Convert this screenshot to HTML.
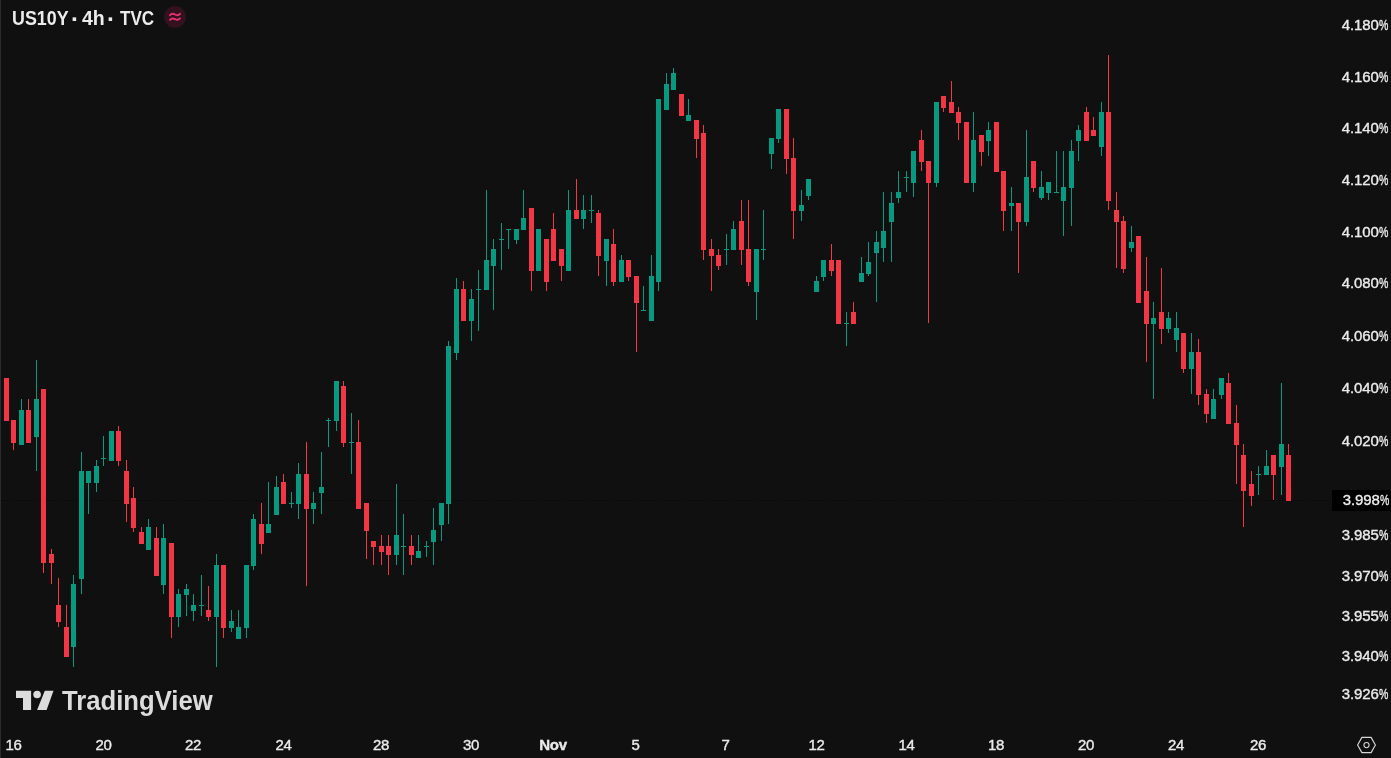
<!DOCTYPE html>
<html><head><meta charset="utf-8"><title>US10Y chart</title>
<style>
html,body{margin:0;padding:0;background:#101010;}
body{width:1391px;height:758px;position:relative;overflow:hidden;font-family:"Liberation Sans",sans-serif;color:#dbdbdb;}
#chart{position:absolute;left:0;top:0;}
.edge{position:absolute;left:0;top:0;width:1px;height:758px;background:#2a2d2e;}
.title{position:absolute;left:0;top:7.4px;height:22px;line-height:22px;font-size:19.5px;font-weight:700;color:#ececec;white-space:nowrap;}
.title span{position:absolute;top:0;transform-origin:0 50%;transform:scaleX(0.875);}
.badge{position:absolute;left:164px;top:6px;width:22px;height:22px;border-radius:50%;background:#33111f;}
.pl{position:absolute;right:3px;width:70px;height:20px;line-height:20px;text-align:right;font-size:15px;letter-spacing:-0.1px;color:#ebebeb;-webkit-text-stroke:0.38px #ebebeb;white-space:nowrap;}
.pc{display:inline-block;width:9.3px;transform-origin:0 50%;transform:scaleX(0.7);text-align:left;letter-spacing:0;}
.cur{position:absolute;left:1332px;top:490px;width:59px;height:21px;background:#000;}
.cur span.t{position:absolute;right:2px;top:-0.7px;height:21px;line-height:21px;font-size:15px;letter-spacing:-0.1px;color:#f0f0f0;-webkit-text-stroke:0.3px #f0f0f0;white-space:nowrap;}
.tl{position:absolute;top:734.7px;width:60px;height:20px;line-height:20px;text-align:center;font-size:15px;color:#ebebeb;-webkit-text-stroke:0.38px #ebebeb;letter-spacing:-0.3px;white-space:nowrap;}
.tl.b{font-weight:700;}
.logo{position:absolute;left:62px;top:686.6px;height:28px;line-height:28px;font-size:27px;font-weight:700;color:#dcdcdc;white-space:nowrap;transform-origin:0 50%;transform:scaleX(0.95);}
</style></head><body>
<svg id="chart" width="1391" height="758" viewBox="0 0 1391 758" shape-rendering="crispEdges">
<line x1="1" y1="500.5" x2="1330" y2="500.5" stroke="#000" stroke-opacity="0.75" stroke-width="1" stroke-dasharray="1 2"/>
<rect x="6" y="378" width="1" height="43" fill="#f23645"/>
<rect x="4" y="378" width="5" height="43" fill="#f23645"/>
<rect x="13" y="420" width="1" height="30" fill="#f23645"/>
<rect x="11" y="420" width="5" height="23" fill="#f23645"/>
<rect x="21" y="399" width="1" height="46" fill="#089981"/>
<rect x="19" y="410" width="5" height="35" fill="#089981"/>
<rect x="28" y="399" width="1" height="44" fill="#f23645"/>
<rect x="26" y="410" width="5" height="33" fill="#f23645"/>
<rect x="36" y="360" width="1" height="111" fill="#089981"/>
<rect x="34" y="399" width="5" height="38" fill="#089981"/>
<rect x="43" y="389" width="1" height="184" fill="#f23645"/>
<rect x="41" y="389" width="5" height="174" fill="#f23645"/>
<rect x="51" y="549" width="1" height="35" fill="#f23645"/>
<rect x="49" y="554" width="5" height="9" fill="#f23645"/>
<rect x="58" y="578" width="1" height="49" fill="#f23645"/>
<rect x="56" y="605" width="5" height="17" fill="#f23645"/>
<rect x="66" y="605" width="1" height="52" fill="#f23645"/>
<rect x="64" y="627" width="5" height="30" fill="#f23645"/>
<rect x="73" y="575" width="1" height="92" fill="#089981"/>
<rect x="71" y="584" width="5" height="63" fill="#089981"/>
<rect x="81" y="452" width="1" height="142" fill="#089981"/>
<rect x="79" y="471" width="5" height="108" fill="#089981"/>
<rect x="88" y="471" width="1" height="43" fill="#089981"/>
<rect x="86" y="471" width="5" height="12" fill="#089981"/>
<rect x="96" y="460" width="1" height="32" fill="#089981"/>
<rect x="94" y="466" width="5" height="17" fill="#089981"/>
<rect x="103" y="436" width="1" height="30" fill="#089981"/>
<rect x="101" y="458" width="5" height="1" fill="#089981"/>
<rect x="111" y="431" width="1" height="30" fill="#089981"/>
<rect x="109" y="431" width="5" height="30" fill="#089981"/>
<rect x="118" y="426" width="1" height="40" fill="#f23645"/>
<rect x="116" y="431" width="5" height="30" fill="#f23645"/>
<rect x="126" y="460" width="1" height="62" fill="#f23645"/>
<rect x="124" y="471" width="5" height="33" fill="#f23645"/>
<rect x="133" y="487" width="1" height="45" fill="#f23645"/>
<rect x="131" y="498" width="5" height="30" fill="#f23645"/>
<rect x="141" y="527" width="1" height="17" fill="#f23645"/>
<rect x="139" y="532" width="5" height="12" fill="#f23645"/>
<rect x="148" y="519" width="1" height="31" fill="#089981"/>
<rect x="146" y="527" width="5" height="23" fill="#089981"/>
<rect x="156" y="527" width="1" height="49" fill="#f23645"/>
<rect x="154" y="538" width="5" height="38" fill="#f23645"/>
<rect x="163" y="524" width="1" height="70" fill="#089981"/>
<rect x="161" y="538" width="5" height="47" fill="#089981"/>
<rect x="171" y="543" width="1" height="95" fill="#f23645"/>
<rect x="169" y="543" width="5" height="74" fill="#f23645"/>
<rect x="178" y="589" width="1" height="38" fill="#089981"/>
<rect x="176" y="594" width="5" height="23" fill="#089981"/>
<rect x="186" y="584" width="1" height="32" fill="#089981"/>
<rect x="184" y="589" width="5" height="6" fill="#089981"/>
<rect x="193" y="594" width="1" height="27" fill="#089981"/>
<rect x="191" y="605" width="5" height="6" fill="#089981"/>
<rect x="201" y="575" width="1" height="41" fill="#089981"/>
<rect x="199" y="605" width="5" height="1" fill="#089981"/>
<rect x="208" y="586" width="1" height="35" fill="#f23645"/>
<rect x="206" y="610" width="5" height="7" fill="#f23645"/>
<rect x="216" y="554" width="1" height="113" fill="#089981"/>
<rect x="214" y="565" width="5" height="52" fill="#089981"/>
<rect x="223" y="565" width="1" height="73" fill="#f23645"/>
<rect x="221" y="565" width="5" height="63" fill="#f23645"/>
<rect x="231" y="610" width="1" height="22" fill="#089981"/>
<rect x="229" y="621" width="5" height="7" fill="#089981"/>
<rect x="238" y="610" width="1" height="29" fill="#089981"/>
<rect x="236" y="627" width="5" height="12" fill="#089981"/>
<rect x="246" y="565" width="1" height="73" fill="#089981"/>
<rect x="244" y="565" width="5" height="63" fill="#089981"/>
<rect x="253" y="514" width="1" height="56" fill="#089981"/>
<rect x="251" y="519" width="5" height="47" fill="#089981"/>
<rect x="261" y="503" width="1" height="51" fill="#f23645"/>
<rect x="259" y="524" width="5" height="20" fill="#f23645"/>
<rect x="268" y="482" width="1" height="51" fill="#089981"/>
<rect x="266" y="524" width="5" height="9" fill="#089981"/>
<rect x="276" y="476" width="1" height="39" fill="#089981"/>
<rect x="274" y="487" width="5" height="28" fill="#089981"/>
<rect x="283" y="474" width="1" height="30" fill="#f23645"/>
<rect x="281" y="482" width="5" height="22" fill="#f23645"/>
<rect x="291" y="492" width="1" height="16" fill="#089981"/>
<rect x="289" y="503" width="5" height="1" fill="#089981"/>
<rect x="298" y="463" width="1" height="56" fill="#089981"/>
<rect x="296" y="474" width="5" height="30" fill="#089981"/>
<rect x="306" y="442" width="1" height="144" fill="#f23645"/>
<rect x="304" y="474" width="5" height="35" fill="#f23645"/>
<rect x="313" y="492" width="1" height="32" fill="#089981"/>
<rect x="311" y="503" width="5" height="6" fill="#089981"/>
<rect x="321" y="452" width="1" height="62" fill="#089981"/>
<rect x="319" y="487" width="5" height="6" fill="#089981"/>
<rect x="328" y="418" width="1" height="29" fill="#089981"/>
<rect x="326" y="420" width="5" height="1" fill="#089981"/>
<rect x="336" y="381" width="1" height="50" fill="#089981"/>
<rect x="334" y="381" width="5" height="40" fill="#089981"/>
<rect x="343" y="381" width="1" height="66" fill="#f23645"/>
<rect x="341" y="386" width="5" height="57" fill="#f23645"/>
<rect x="351" y="413" width="1" height="61" fill="#089981"/>
<rect x="349" y="442" width="5" height="1" fill="#089981"/>
<rect x="358" y="420" width="1" height="89" fill="#f23645"/>
<rect x="356" y="442" width="5" height="67" fill="#f23645"/>
<rect x="366" y="503" width="1" height="56" fill="#f23645"/>
<rect x="364" y="503" width="5" height="28" fill="#f23645"/>
<rect x="373" y="541" width="1" height="24" fill="#f23645"/>
<rect x="371" y="541" width="5" height="6" fill="#f23645"/>
<rect x="381" y="535" width="1" height="30" fill="#f23645"/>
<rect x="379" y="546" width="5" height="6" fill="#f23645"/>
<rect x="388" y="535" width="1" height="40" fill="#f23645"/>
<rect x="386" y="546" width="5" height="9" fill="#f23645"/>
<rect x="396" y="484" width="1" height="81" fill="#089981"/>
<rect x="394" y="535" width="5" height="20" fill="#089981"/>
<rect x="403" y="514" width="1" height="61" fill="#089981"/>
<rect x="401" y="546" width="5" height="1" fill="#089981"/>
<rect x="411" y="535" width="1" height="30" fill="#f23645"/>
<rect x="409" y="546" width="5" height="9" fill="#f23645"/>
<rect x="418" y="535" width="1" height="23" fill="#089981"/>
<rect x="416" y="551" width="5" height="7" fill="#089981"/>
<rect x="426" y="541" width="1" height="16" fill="#089981"/>
<rect x="424" y="546" width="5" height="1" fill="#089981"/>
<rect x="433" y="508" width="1" height="57" fill="#089981"/>
<rect x="431" y="530" width="5" height="12" fill="#089981"/>
<rect x="441" y="503" width="1" height="38" fill="#089981"/>
<rect x="439" y="503" width="5" height="22" fill="#089981"/>
<rect x="448" y="341" width="1" height="183" fill="#089981"/>
<rect x="446" y="346" width="5" height="158" fill="#089981"/>
<rect x="456" y="278" width="1" height="82" fill="#089981"/>
<rect x="454" y="289" width="5" height="64" fill="#089981"/>
<rect x="463" y="281" width="1" height="40" fill="#f23645"/>
<rect x="461" y="289" width="5" height="32" fill="#f23645"/>
<rect x="471" y="289" width="1" height="52" fill="#089981"/>
<rect x="469" y="299" width="5" height="22" fill="#089981"/>
<rect x="478" y="270" width="1" height="61" fill="#089981"/>
<rect x="476" y="289" width="5" height="1" fill="#089981"/>
<rect x="486" y="190" width="1" height="100" fill="#089981"/>
<rect x="484" y="260" width="5" height="30" fill="#089981"/>
<rect x="493" y="239" width="1" height="71" fill="#089981"/>
<rect x="491" y="249" width="5" height="17" fill="#089981"/>
<rect x="501" y="223" width="1" height="47" fill="#089981"/>
<rect x="499" y="239" width="5" height="1" fill="#089981"/>
<rect x="508" y="229" width="1" height="20" fill="#089981"/>
<rect x="506" y="229" width="5" height="1" fill="#089981"/>
<rect x="516" y="229" width="1" height="15" fill="#089981"/>
<rect x="514" y="229" width="5" height="11" fill="#089981"/>
<rect x="523" y="190" width="1" height="40" fill="#089981"/>
<rect x="521" y="218" width="5" height="12" fill="#089981"/>
<rect x="531" y="208" width="1" height="83" fill="#f23645"/>
<rect x="529" y="208" width="5" height="63" fill="#f23645"/>
<rect x="538" y="229" width="1" height="42" fill="#089981"/>
<rect x="536" y="229" width="5" height="42" fill="#089981"/>
<rect x="546" y="239" width="1" height="52" fill="#f23645"/>
<rect x="544" y="239" width="5" height="43" fill="#f23645"/>
<rect x="553" y="213" width="1" height="48" fill="#f23645"/>
<rect x="551" y="229" width="5" height="32" fill="#f23645"/>
<rect x="561" y="249" width="1" height="32" fill="#f23645"/>
<rect x="559" y="249" width="5" height="17" fill="#f23645"/>
<rect x="568" y="190" width="1" height="81" fill="#089981"/>
<rect x="566" y="210" width="5" height="61" fill="#089981"/>
<rect x="576" y="179" width="1" height="40" fill="#f23645"/>
<rect x="574" y="210" width="5" height="9" fill="#f23645"/>
<rect x="583" y="195" width="1" height="34" fill="#089981"/>
<rect x="581" y="210" width="5" height="9" fill="#089981"/>
<rect x="591" y="195" width="1" height="28" fill="#089981"/>
<rect x="589" y="210" width="5" height="1" fill="#089981"/>
<rect x="598" y="210" width="1" height="66" fill="#f23645"/>
<rect x="596" y="213" width="5" height="43" fill="#f23645"/>
<rect x="606" y="239" width="1" height="47" fill="#089981"/>
<rect x="604" y="239" width="5" height="22" fill="#089981"/>
<rect x="613" y="229" width="1" height="57" fill="#f23645"/>
<rect x="611" y="244" width="5" height="38" fill="#f23645"/>
<rect x="621" y="255" width="1" height="27" fill="#089981"/>
<rect x="619" y="260" width="5" height="22" fill="#089981"/>
<rect x="628" y="260" width="1" height="21" fill="#f23645"/>
<rect x="626" y="260" width="5" height="17" fill="#f23645"/>
<rect x="636" y="276" width="1" height="76" fill="#f23645"/>
<rect x="634" y="276" width="5" height="27" fill="#f23645"/>
<rect x="643" y="286" width="1" height="25" fill="#089981"/>
<rect x="641" y="310" width="5" height="1" fill="#089981"/>
<rect x="651" y="255" width="1" height="66" fill="#089981"/>
<rect x="649" y="276" width="5" height="45" fill="#089981"/>
<rect x="658" y="99" width="1" height="192" fill="#089981"/>
<rect x="656" y="99" width="5" height="183" fill="#089981"/>
<rect x="666" y="73" width="1" height="37" fill="#089981"/>
<rect x="664" y="84" width="5" height="26" fill="#089981"/>
<rect x="673" y="68" width="1" height="22" fill="#089981"/>
<rect x="671" y="73" width="5" height="17" fill="#089981"/>
<rect x="681" y="94" width="1" height="22" fill="#f23645"/>
<rect x="679" y="94" width="5" height="22" fill="#f23645"/>
<rect x="688" y="99" width="1" height="22" fill="#089981"/>
<rect x="686" y="115" width="5" height="6" fill="#089981"/>
<rect x="696" y="120" width="1" height="38" fill="#f23645"/>
<rect x="694" y="120" width="5" height="19" fill="#f23645"/>
<rect x="703" y="125" width="1" height="135" fill="#f23645"/>
<rect x="701" y="133" width="5" height="117" fill="#f23645"/>
<rect x="711" y="239" width="1" height="52" fill="#f23645"/>
<rect x="709" y="249" width="5" height="7" fill="#f23645"/>
<rect x="718" y="249" width="1" height="21" fill="#f23645"/>
<rect x="716" y="255" width="5" height="11" fill="#f23645"/>
<rect x="726" y="234" width="1" height="31" fill="#089981"/>
<rect x="724" y="249" width="5" height="1" fill="#089981"/>
<rect x="733" y="221" width="1" height="29" fill="#089981"/>
<rect x="731" y="229" width="5" height="21" fill="#089981"/>
<rect x="741" y="200" width="1" height="65" fill="#f23645"/>
<rect x="739" y="221" width="5" height="29" fill="#f23645"/>
<rect x="748" y="200" width="1" height="86" fill="#f23645"/>
<rect x="746" y="249" width="5" height="33" fill="#f23645"/>
<rect x="756" y="249" width="1" height="71" fill="#089981"/>
<rect x="754" y="249" width="5" height="43" fill="#089981"/>
<rect x="763" y="210" width="1" height="50" fill="#089981"/>
<rect x="761" y="249" width="5" height="1" fill="#089981"/>
<rect x="771" y="138" width="1" height="31" fill="#089981"/>
<rect x="769" y="138" width="5" height="16" fill="#089981"/>
<rect x="778" y="109" width="1" height="34" fill="#089981"/>
<rect x="776" y="109" width="5" height="30" fill="#089981"/>
<rect x="786" y="109" width="1" height="65" fill="#f23645"/>
<rect x="784" y="109" width="5" height="50" fill="#f23645"/>
<rect x="793" y="138" width="1" height="101" fill="#f23645"/>
<rect x="791" y="158" width="5" height="53" fill="#f23645"/>
<rect x="801" y="190" width="1" height="31" fill="#089981"/>
<rect x="799" y="205" width="5" height="6" fill="#089981"/>
<rect x="808" y="179" width="1" height="21" fill="#089981"/>
<rect x="806" y="179" width="5" height="17" fill="#089981"/>
<rect x="816" y="276" width="1" height="16" fill="#089981"/>
<rect x="814" y="281" width="5" height="11" fill="#089981"/>
<rect x="823" y="260" width="1" height="21" fill="#089981"/>
<rect x="821" y="260" width="5" height="17" fill="#089981"/>
<rect x="831" y="244" width="1" height="32" fill="#f23645"/>
<rect x="829" y="260" width="5" height="11" fill="#f23645"/>
<rect x="838" y="260" width="1" height="64" fill="#f23645"/>
<rect x="836" y="260" width="5" height="64" fill="#f23645"/>
<rect x="846" y="312" width="1" height="34" fill="#089981"/>
<rect x="844" y="323" width="5" height="1" fill="#089981"/>
<rect x="853" y="302" width="1" height="22" fill="#f23645"/>
<rect x="851" y="312" width="5" height="12" fill="#f23645"/>
<rect x="861" y="257" width="1" height="25" fill="#089981"/>
<rect x="859" y="273" width="5" height="9" fill="#089981"/>
<rect x="868" y="242" width="1" height="34" fill="#089981"/>
<rect x="866" y="262" width="5" height="12" fill="#089981"/>
<rect x="876" y="231" width="1" height="71" fill="#089981"/>
<rect x="874" y="242" width="5" height="11" fill="#089981"/>
<rect x="883" y="192" width="1" height="70" fill="#089981"/>
<rect x="881" y="231" width="5" height="17" fill="#089981"/>
<rect x="891" y="192" width="1" height="70" fill="#089981"/>
<rect x="889" y="203" width="5" height="19" fill="#089981"/>
<rect x="898" y="171" width="1" height="32" fill="#089981"/>
<rect x="896" y="192" width="5" height="6" fill="#089981"/>
<rect x="906" y="171" width="1" height="21" fill="#089981"/>
<rect x="904" y="177" width="5" height="1" fill="#089981"/>
<rect x="913" y="151" width="1" height="46" fill="#089981"/>
<rect x="911" y="151" width="5" height="32" fill="#089981"/>
<rect x="921" y="130" width="1" height="41" fill="#f23645"/>
<rect x="919" y="140" width="5" height="22" fill="#f23645"/>
<rect x="928" y="161" width="1" height="162" fill="#f23645"/>
<rect x="926" y="161" width="5" height="22" fill="#f23645"/>
<rect x="936" y="102" width="1" height="85" fill="#089981"/>
<rect x="934" y="102" width="5" height="81" fill="#089981"/>
<rect x="943" y="96" width="1" height="16" fill="#f23645"/>
<rect x="941" y="96" width="5" height="12" fill="#f23645"/>
<rect x="951" y="81" width="1" height="32" fill="#f23645"/>
<rect x="949" y="102" width="5" height="11" fill="#f23645"/>
<rect x="958" y="107" width="1" height="33" fill="#f23645"/>
<rect x="956" y="112" width="5" height="11" fill="#f23645"/>
<rect x="966" y="122" width="1" height="61" fill="#f23645"/>
<rect x="964" y="122" width="5" height="61" fill="#f23645"/>
<rect x="973" y="112" width="1" height="80" fill="#089981"/>
<rect x="971" y="140" width="5" height="43" fill="#089981"/>
<rect x="981" y="135" width="1" height="31" fill="#f23645"/>
<rect x="979" y="135" width="5" height="17" fill="#f23645"/>
<rect x="988" y="122" width="1" height="34" fill="#089981"/>
<rect x="986" y="130" width="5" height="11" fill="#089981"/>
<rect x="996" y="122" width="1" height="50" fill="#f23645"/>
<rect x="994" y="122" width="5" height="50" fill="#f23645"/>
<rect x="1003" y="171" width="1" height="60" fill="#f23645"/>
<rect x="1001" y="171" width="5" height="40" fill="#f23645"/>
<rect x="1011" y="187" width="1" height="44" fill="#089981"/>
<rect x="1009" y="203" width="5" height="3" fill="#089981"/>
<rect x="1018" y="203" width="1" height="70" fill="#f23645"/>
<rect x="1016" y="203" width="5" height="19" fill="#f23645"/>
<rect x="1026" y="130" width="1" height="96" fill="#089981"/>
<rect x="1024" y="177" width="5" height="45" fill="#089981"/>
<rect x="1033" y="161" width="1" height="31" fill="#f23645"/>
<rect x="1031" y="161" width="5" height="27" fill="#f23645"/>
<rect x="1041" y="171" width="1" height="29" fill="#089981"/>
<rect x="1039" y="187" width="5" height="11" fill="#089981"/>
<rect x="1048" y="182" width="1" height="18" fill="#089981"/>
<rect x="1046" y="182" width="5" height="11" fill="#089981"/>
<rect x="1056" y="151" width="1" height="42" fill="#089981"/>
<rect x="1054" y="192" width="5" height="1" fill="#089981"/>
<rect x="1063" y="151" width="1" height="85" fill="#089981"/>
<rect x="1061" y="187" width="5" height="14" fill="#089981"/>
<rect x="1071" y="140" width="1" height="86" fill="#089981"/>
<rect x="1069" y="151" width="5" height="37" fill="#089981"/>
<rect x="1078" y="125" width="1" height="36" fill="#089981"/>
<rect x="1076" y="130" width="5" height="11" fill="#089981"/>
<rect x="1086" y="107" width="1" height="34" fill="#f23645"/>
<rect x="1084" y="112" width="5" height="29" fill="#f23645"/>
<rect x="1093" y="117" width="1" height="19" fill="#f23645"/>
<rect x="1091" y="130" width="5" height="6" fill="#f23645"/>
<rect x="1101" y="102" width="1" height="54" fill="#089981"/>
<rect x="1099" y="112" width="5" height="35" fill="#089981"/>
<rect x="1108" y="55" width="1" height="155" fill="#f23645"/>
<rect x="1106" y="112" width="5" height="89" fill="#f23645"/>
<rect x="1116" y="192" width="1" height="76" fill="#f23645"/>
<rect x="1114" y="210" width="5" height="12" fill="#f23645"/>
<rect x="1123" y="216" width="1" height="57" fill="#f23645"/>
<rect x="1121" y="221" width="5" height="48" fill="#f23645"/>
<rect x="1131" y="226" width="1" height="26" fill="#089981"/>
<rect x="1129" y="242" width="5" height="6" fill="#089981"/>
<rect x="1138" y="236" width="1" height="67" fill="#f23645"/>
<rect x="1136" y="236" width="5" height="67" fill="#f23645"/>
<rect x="1146" y="257" width="1" height="105" fill="#f23645"/>
<rect x="1144" y="291" width="5" height="33" fill="#f23645"/>
<rect x="1153" y="302" width="1" height="97" fill="#089981"/>
<rect x="1151" y="318" width="5" height="6" fill="#089981"/>
<rect x="1161" y="268" width="1" height="76" fill="#f23645"/>
<rect x="1159" y="312" width="5" height="17" fill="#f23645"/>
<rect x="1168" y="312" width="1" height="21" fill="#089981"/>
<rect x="1166" y="318" width="5" height="11" fill="#089981"/>
<rect x="1176" y="312" width="1" height="40" fill="#089981"/>
<rect x="1174" y="328" width="5" height="12" fill="#089981"/>
<rect x="1183" y="333" width="1" height="40" fill="#f23645"/>
<rect x="1181" y="333" width="5" height="36" fill="#f23645"/>
<rect x="1191" y="333" width="1" height="61" fill="#089981"/>
<rect x="1189" y="352" width="5" height="17" fill="#089981"/>
<rect x="1198" y="339" width="1" height="66" fill="#f23645"/>
<rect x="1196" y="352" width="5" height="43" fill="#f23645"/>
<rect x="1206" y="389" width="1" height="34" fill="#f23645"/>
<rect x="1204" y="394" width="5" height="20" fill="#f23645"/>
<rect x="1213" y="389" width="1" height="30" fill="#089981"/>
<rect x="1211" y="399" width="5" height="20" fill="#089981"/>
<rect x="1221" y="378" width="1" height="21" fill="#089981"/>
<rect x="1219" y="378" width="5" height="17" fill="#089981"/>
<rect x="1228" y="373" width="1" height="51" fill="#f23645"/>
<rect x="1226" y="383" width="5" height="41" fill="#f23645"/>
<rect x="1236" y="405" width="1" height="79" fill="#f23645"/>
<rect x="1234" y="423" width="5" height="22" fill="#f23645"/>
<rect x="1243" y="444" width="1" height="83" fill="#f23645"/>
<rect x="1241" y="455" width="5" height="36" fill="#f23645"/>
<rect x="1251" y="471" width="1" height="35" fill="#f23645"/>
<rect x="1249" y="484" width="5" height="12" fill="#f23645"/>
<rect x="1258" y="466" width="1" height="29" fill="#089981"/>
<rect x="1256" y="474" width="5" height="1" fill="#089981"/>
<rect x="1266" y="450" width="1" height="25" fill="#089981"/>
<rect x="1264" y="466" width="5" height="9" fill="#089981"/>
<rect x="1273" y="455" width="1" height="45" fill="#f23645"/>
<rect x="1271" y="455" width="5" height="20" fill="#f23645"/>
<rect x="1281" y="383" width="1" height="112" fill="#089981"/>
<rect x="1279" y="444" width="5" height="23" fill="#089981"/>
<rect x="1288" y="444" width="1" height="57" fill="#f23645"/>
<rect x="1286" y="455" width="5" height="46" fill="#f23645"/>
</svg>
<div class="edge"></div>
<div class="title"><span style="left:11.5px;transform:scaleX(0.915)">US10Y</span><span style="left:70.6px;transform:scale(1.25)">·</span><span style="left:82px;transform:scaleX(1)">4h</span><span style="left:107.4px;transform:scale(1.25)">·</span><span style="left:119.6px">TVC</span></div>
<div class="badge"><svg width="22" height="22" viewBox="0 0 22 22"><path d="M6 9.2 C7.6 7.4 9.4 7.6 11 8.5 C12.6 9.4 14.4 9.6 16 7.8 M6 13.8 C7.6 12 9.4 12.2 11 13.1 C12.6 14 14.4 14.2 16 12.4" fill="none" stroke="#e8336d" stroke-width="1.9" stroke-linecap="round"/></svg></div>
<div class="pl" style="top:14.5px">4.180<span class="pc">%</span></div><div class="pl" style="top:66.5px">4.160<span class="pc">%</span></div><div class="pl" style="top:118.0px">4.140<span class="pc">%</span></div><div class="pl" style="top:169.5px">4.120<span class="pc">%</span></div><div class="pl" style="top:221.5px">4.100<span class="pc">%</span></div><div class="pl" style="top:273.0px">4.080<span class="pc">%</span></div><div class="pl" style="top:325.5px">4.060<span class="pc">%</span></div><div class="pl" style="top:378.0px">4.040<span class="pc">%</span></div><div class="pl" style="top:430.5px">4.020<span class="pc">%</span></div><div class="pl" style="top:525.2px">3.985<span class="pc">%</span></div><div class="pl" style="top:565.5px">3.970<span class="pc">%</span></div><div class="pl" style="top:605.9px">3.955<span class="pc">%</span></div><div class="pl" style="top:646.3px">3.940<span class="pc">%</span></div><div class="pl" style="top:684.0px">3.926<span class="pc">%</span></div>
<div class="cur"><span class="t">3.998<span class="pc">%</span></span></div>
<div class="tl" style="left:-16.5px">16</div><div class="tl" style="left:73.5px">20</div><div class="tl" style="left:163.0px">22</div><div class="tl" style="left:253.5px">24</div><div class="tl" style="left:351.0px">28</div><div class="tl" style="left:441.0px">30</div><div class="tl b" style="left:523.0px">Nov</div><div class="tl" style="left:605.5px">5</div><div class="tl" style="left:695.5px">7</div><div class="tl" style="left:786.5px">12</div><div class="tl" style="left:876.5px">14</div><div class="tl" style="left:966.0px">18</div><div class="tl" style="left:1056.0px">20</div><div class="tl" style="left:1146.0px">24</div><div class="tl" style="left:1228.0px">26</div>
<svg style="position:absolute;left:14px;top:688px" width="42" height="24" viewBox="0 0 42 24">
<path d="M2 2.7 H17.1 V21.9 H9 V10 H2 Z" fill="#dcdcdc"/>
<circle cx="23.1" cy="6.5" r="3.8" fill="#dcdcdc"/>
<path d="M30.8 2.7 H39.5 L32.6 21.9 H23.1 Z" fill="#dcdcdc"/>
</svg>
<div class="logo">TradingView</div>
<svg style="position:absolute;left:1355px;top:735px" width="24" height="22" viewBox="0 0 24 22">
<path d="M2.6 10 L6.9 2.4 H16.1 L20.4 10 L16.1 17.6 H6.9 Z" fill="none" stroke="#d6d6d6" stroke-width="1.15" stroke-linejoin="round"/>
<circle cx="11.5" cy="10.1" r="2.6" fill="none" stroke="#d6d6d6" stroke-width="1.05"/>
</svg>
</body></html>
